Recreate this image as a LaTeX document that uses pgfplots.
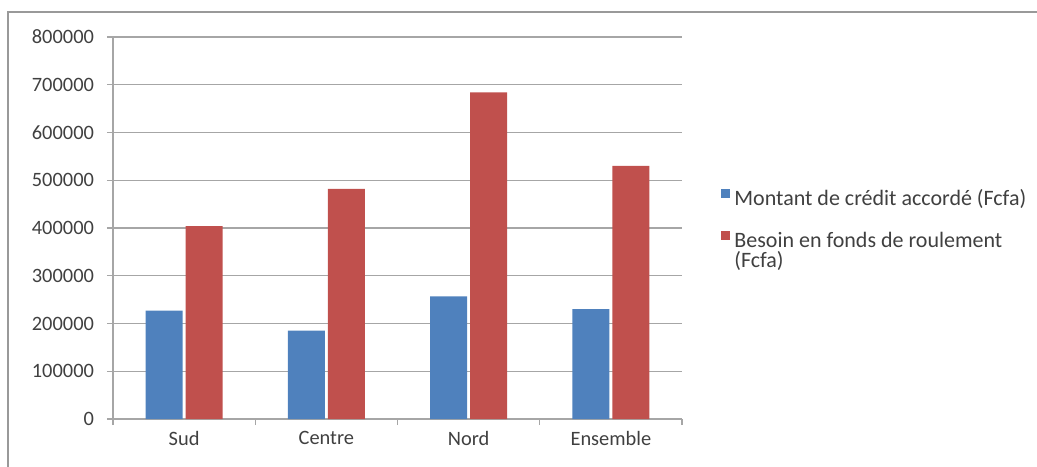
\documentclass[border=0pt]{standalone}
\usepackage{pgfplots}
\pgfplotsset{compat=1.18}
\usepackage{fontspec}
\setmainfont{Carlito}
\definecolor{xlblue}{HTML}{4F81BD}
\definecolor{xlred}{HTML}{C0504D}
\definecolor{txt}{HTML}{404040}
\definecolor{gridc}{HTML}{A6A6A6}
\begin{document}
\begin{tikzpicture}[x=0.5pt,y=0.5pt]
\useasboundingbox (-113,-47) rectangle (924,419);
\draw[gray!80,line width=1pt] (-105,-60) -- (-105,407) -- (940,407);
\begin{axis}[
  at={(0,0)}, anchor=south west,
  scale only axis, width=284.5pt, height=191pt,
  ybar, bar width=18.5pt,
  ymin=0, ymax=800000, ytick distance=100000,
  xmin=-0.5, xmax=3.5,
  xtick={0,1,2,3}, xticklabels={Sud,Centre,Nord,Ensemble},
  major x tick style={draw=none},
  minor xtick={-0.5,0.5,1.5,2.5,3.5},
  minor x tick style={draw=gridc, line width=0.6pt},
  minor tick length=3pt,
  y tick style={draw=gridc, line width=0.6pt}, major tick length=3pt,
  tick align=outside,
  axis x line*=bottom, axis y line*=left,
  axis line style={draw=gridc, line width=0.6pt, -},
  ymajorgrids, xmajorgrids=false, xminorgrids=false,
  major grid style={draw=gridc, line width=0.6pt},
  /pgf/number format/assume math mode=true,
  yticklabel style={/pgf/number format/fixed, /pgf/number format/1000 sep={}, text=txt, font=\fontsize{10.2}{12}\selectfont, xshift=-3pt},
  xticklabel style={text=txt, font=\fontsize{10.2}{12}\selectfont, yshift=0.5pt},
  scaled y ticks=false,
  legend style={at={(1.058,0.624)}, anchor=north west, draw=none, fill=none,
    font=\fontsize{11}{9}\selectfont, text=txt, row sep=8pt,
    cells={anchor=west}},
  legend image code/.code={\fill[#1,draw=none] (0pt,0.5pt) rectangle (4.5pt,5pt);},
]
\addplot[fill=xlblue, draw=none, bar shift=-10pt] coordinates {(0,227000) (1,185000) (2,257000) (3,230000)};
\addlegendentry{Montant de crédit accordé (Fcfa)}
\addplot[fill=xlred, draw=none, bar shift=10pt] coordinates {(0,404000) (1,482000) (2,684000) (3,530000)};
\addlegendentry{\begin{tabular}[t]{@{}l@{}}Besoin en fonds de roulement\\[-0.8pt](Fcfa)\end{tabular}}
\end{axis}
\end{tikzpicture}
\end{document}
